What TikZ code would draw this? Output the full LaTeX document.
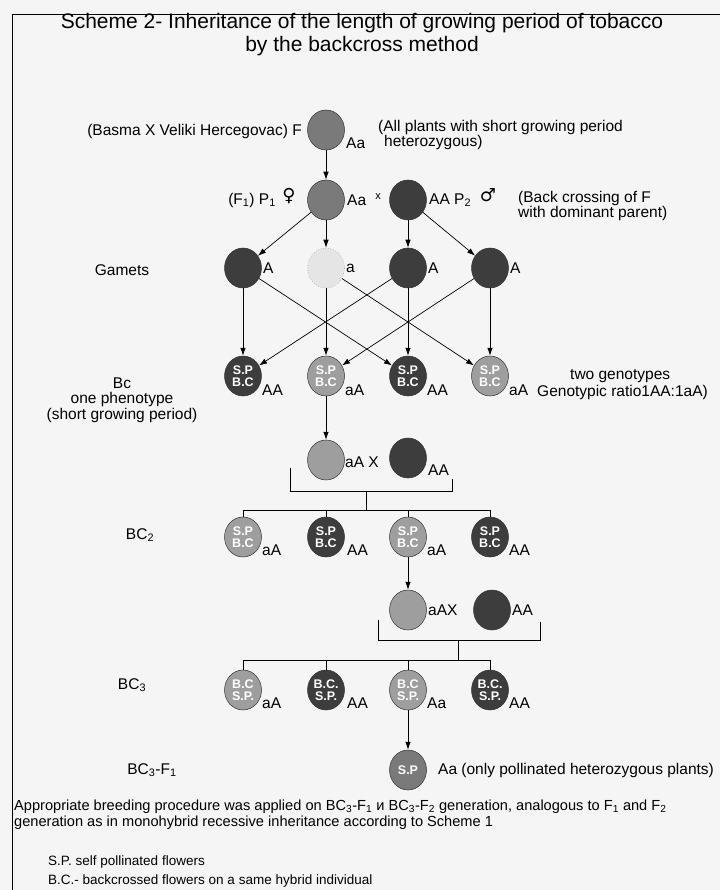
\documentclass[tikz,border=0pt]{standalone}
\usepackage{fontspec}
\setmainfont{Liberation Sans}
\newfontfamily\symfont{DejaVu Sans}
\usetikzlibrary{shapes.geometric,arrows.meta}
\begin{document}
\begin{tikzpicture}[x=1pt,y=-1pt,
  gene/.style={ellipse,minimum width=37pt,minimum height=40pt,inner sep=0pt,draw=black!80,line width=0.5pt,text=white,font=\bfseries\fontsize{12.5}{11.5}\selectfont,align=center},
  dark/.style={gene,fill=black!76},
  mid/.style={gene,fill=black!52},
  light/.style={gene,fill=black!38},
  pale/.style={gene,fill=black!10,draw=black!45,dotted},
  lbl/.style={font=\fontsize{15.5}{17}\selectfont,inner sep=0pt,anchor=west},
  lblc/.style={font=\fontsize{15.5}{15.5}\selectfont,inner sep=0pt,align=center},
  arr/.style={-{Latex[length=8pt,width=5.5pt]},line width=0.7pt},
  ln/.style={line width=0.7pt}]
\useasboundingbox (0,0) rectangle (720,890);
\fill[black!4] (0,0) rectangle (720,890);
\coordinate (fa) at (12,890);
\coordinate (fb) at (12,14);
\coordinate (fc) at (720,14);
\draw[line width=0.8pt] (fa) -- (fb) -- (fc);
% title
\node[font=\fontsize{21}{23}\selectfont,align=center,inner sep=0pt] (title) at (362,35) {Scheme 2- Inheritance of the length of growing period of tobacco\\by the backcross method};
% row 1
\node[mid] (f1) at (326,130) {};
\node[lbl] (f1g) at (346,143) {Aa};
\node[lbl,anchor=east] (f1l) at (302,131) {(Basma X Veliki Hercegovac) F};
\node[lbl] (f1r1) at (378,127) {(All plants with short growing period};
\node[lbl] (f1r2) at (384,142) {heterozygous)};
% row 2
\node[mid] (p1) at (326,200) {};
\node[dark] (p2) at (408,200) {};
\node[lbl,anchor=east] (p1l) at (276,200) {(F\textsubscript{1}) P\textsubscript{1}};
\node[font=\symfont\fontsize{18}{18}\selectfont,inner sep=0pt] (fem) at (289,196) {♀};
\node[lbl] (p1g) at (347,200) {Aa};
\node[font=\fontsize{11}{11}\selectfont,inner sep=0pt] (xx) at (378,197) {x};
\node[lbl] (p2g) at (429,200) {AA P\textsubscript{2}};
\node[font=\symfont\fontsize{18}{18}\selectfont,inner sep=0pt] (mal) at (488,195) {♂};
\node[lbl] (bc1) at (518,198) {(Back crossing of F};
\node[lbl] (bc2) at (518,213) {with dominant parent)};
\draw[arr] (f1) -- (p1);
% gametes
\node[lbl,anchor=center] (gam) at (122,270) {Gamets};
\node[dark] (g1) at (243,268) {};
\node[pale] (g2) at (326,268) {};
\node[dark] (g3) at (408,268) {};
\node[dark] (g4) at (490,268) {};
\node[lbl] (g1l) at (263,268) {A};
\node[lbl] (g2l) at (346,268) {a};
\node[lbl] (g3l) at (428,268) {A};
\node[lbl] (g4l) at (510,268) {A};
\draw[arr] (p1) -- (g1);
\draw[arr] (p1) -- (g2);
\draw[arr] (p2) -- (g3);
\draw[arr] (p2) -- (g4);
% row 4 (Bc)
\node[dark] (b1) at (243,376) {S.P\\B.C};
\node[light] (b2) at (326,376) {S.P\\B.C};
\node[dark] (b3) at (408,376) {S.P\\B.C};
\node[light] (b4) at (490,376) {S.P\\B.C};
\node[lbl] (b1l) at (262,390) {AA};
\node[lbl] (b2l) at (345,390) {aA};
\node[lbl] (b3l) at (427,390) {AA};
\node[lbl] (b4l) at (509,390) {aA};
\draw[arr] (g1) -- (b1);
\draw[arr] (g2) -- (b2);
\draw[arr] (g3) -- (b3);
\draw[arr] (g4) -- (b4);
\draw[arr] (g1) -- (b3);
\draw[arr] (g2) -- (b4);
\draw[arr] (g3) -- (b1);
\draw[arr] (g4) -- (b2);
\node[lblc] (bcl) at (122,400) {Bc\\one phenotype\\(short growing period)};
\node[lbl] (two) at (570,376) {two genotypes};
\node[lbl] (rat) at (537,392) {Genotypic ratio1AA:1aA)};
% row 5
\node[light] (r5a) at (326,460) {};
\node[dark] (r5b) at (408,458) {};
\node[lbl] (r5l) at (345,462) {aA X};
\node[lbl] (r5r) at (428,470) {AA};
\draw[arr] (b2) -- (r5a);
\coordinate (k1) at (290,468);
\coordinate (k2) at (290,491);
\coordinate (k3) at (452,491);
\coordinate (k4) at (452,479);
\coordinate (k5) at (366,491);
\coordinate (k6) at (366,510);
\coordinate (h1) at (243,510);
\coordinate (h2) at (490,510);
\draw[ln] (k1) -- (k2) -- (k3) -- (k4);
\draw[ln] (k5) -- (k6);
\draw[ln] (h1) -- (h2);
% row 6 (BC2)
\node[light] (c61) at (243,537) {S.P\\B.C};
\node[dark] (c62) at (326,537) {S.P\\B.C};
\node[light] (c63) at (408,537) {S.P\\B.C};
\node[dark] (c64) at (490,537) {S.P\\B.C};
\node[lbl] (c61l) at (262,550) {aA};
\node[lbl] (c62l) at (347,550) {AA};
\node[lbl] (c63l) at (427,550) {aA};
\node[lbl] (c64l) at (509,550) {AA};
\draw[ln] (c61 |- h1) -- (c61);
\draw[ln] (c62 |- h1) -- (c62);
\draw[ln] (c63 |- h1) -- (c63);
\draw[ln] (c64 |- h1) -- (c64);
\node[lbl,anchor=center] (bc2l) at (140,535) {BC\textsubscript{2}};
% row 7
\node[light] (r7a) at (408,610) {};
\node[dark] (r7b) at (492,610) {};
\node[lbl] (r7l) at (428,610) {aAX};
\node[lbl] (r7r) at (512,610) {AA};
\draw[arr] (c63) -- (r7a);
\coordinate (m1) at (378,620);
\coordinate (m2) at (378,640);
\coordinate (m3) at (540,640);
\coordinate (m4) at (540,622);
\coordinate (m5) at (458,640);
\coordinate (m6) at (458,660);
\coordinate (n1) at (243,660);
\coordinate (n2) at (490,660);
\draw[ln] (m1) -- (m2) -- (m3) -- (m4);
\draw[ln] (m5) -- (m6);
\draw[ln] (n1) -- (n2);
% row 8 (BC3)
\node[light] (c81) at (243,690) {B.C\\S.P.};
\node[dark] (c82) at (326,690) {B.C.\\S.P.};
\node[light] (c83) at (408,690) {B.C\\S.P.};
\node[dark] (c84) at (490,690) {B.C.\\S.P.};
\node[lbl] (c81l) at (262,703) {aA};
\node[lbl] (c82l) at (347,703) {AA};
\node[lbl] (c83l) at (427,703) {Aa};
\node[lbl] (c84l) at (509,703) {AA};
\draw[ln] (c81 |- n1) -- (c81);
\draw[ln] (c82 |- n1) -- (c82);
\draw[ln] (c83 |- n1) -- (c83);
\draw[ln] (c84 |- n1) -- (c84);
\node[lbl,anchor=center] (bc3l) at (132,685) {BC\textsubscript{3}};
% row 9
\node[mid] (f9) at (408,770) {S.P};
\draw[arr] (c83) -- (f9);
\node[lbl] (f9l) at (438,770) {Aa (only pollinated heterozygous plants)};
\node[lbl,anchor=center] (bc3f) at (152,770) {BC\textsubscript{3}-F\textsubscript{1}};
% bottom text
\node[font=\fontsize{14.6}{16}\selectfont,inner sep=0pt,anchor=north west,align=left] (note) at (14,800) {Appropriate breeding procedure was applied on BC\textsubscript{3}-F\textsubscript{1} и BC\textsubscript{3}-F\textsubscript{2} generation, analogous to F\textsubscript{1} and F\textsubscript{2}\\generation as in monohybrid recessive inheritance according to Scheme 1};
\node[font=\fontsize{13.5}{15}\selectfont,inner sep=0pt,anchor=west] (leg1) at (48,862) {S.P. self pollinated flowers};
\node[font=\fontsize{13.5}{15}\selectfont,inner sep=0pt,anchor=west] (leg2) at (48,881) {B.C.- backcrossed flowers on a same hybrid individual};
\end{tikzpicture}
\end{document}
